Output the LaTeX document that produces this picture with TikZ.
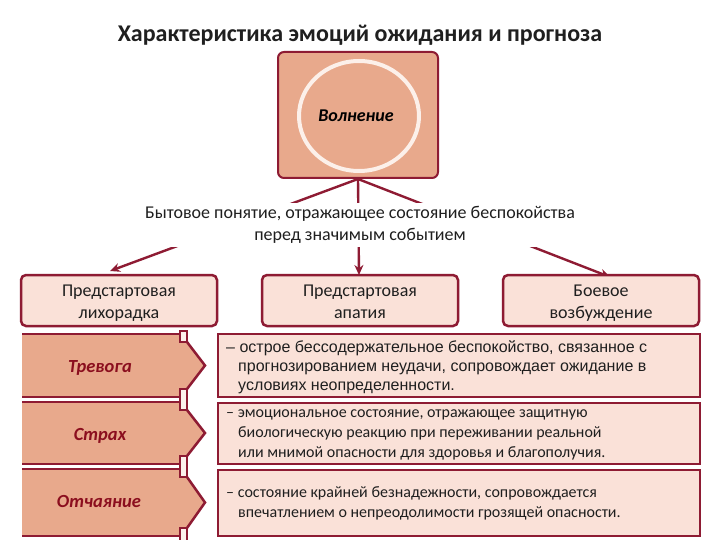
\documentclass[tikz,border=0pt]{standalone}
\usepackage{fontspec}
\setmainfont{Carlito}
\newfontfamily\arialf{Liberation Sans}
\usetikzlibrary{arrows.meta,shapes.geometric}
\definecolor{mroon}{HTML}{8E1B33}
\definecolor{salmon}{HTML}{E8A98C}
\definecolor{pinkfill}{HTML}{FAE1D8}
\definecolor{circ}{HTML}{FCF0EA}
\definecolor{lbl}{HTML}{8B0E1E}
\definecolor{txt}{HTML}{1F1F1F}
\newcommand{\tstrut}{\rule{0pt}{21.4pt}}
\tikzset{
  conn/.style={mroon, line width=2.4pt, -{Stealth[length=10pt,width=9pt]}},
  topbox/.style={draw=mroon, line width=2.5pt, fill=pinkfill, rounded corners=5pt,
    align=center, minimum width=196pt, minimum height=51pt, inner ysep=0pt, text=txt,
    font=\fontsize{18}{22}\selectfont},
  rbox/.style={draw=mroon, line width=2.5pt, fill=pinkfill, minimum width=482pt, inner sep=0pt},
  rtext/.style={anchor=west, align=left, text=txt, inner sep=0pt},
  lbltext/.style={text=lbl, font=\bfseries\itshape\fontsize{18.5}{20}\selectfont},
  chevline/.style={mroon, line width=2.5pt},
  tab/.style={draw=mroon, line width=1.5pt, fill=pinkfill!50}
}
\begin{document}
\begin{tikzpicture}[x=1pt,y=-1pt]
\useasboundingbox (0,0) rectangle (720,540);
\fill[white] (0,0) rectangle (720,540);

\node[font=\bfseries\fontsize{24}{28}\selectfont, text=txt] (title) at (360,35) {Характеристика эмоций ожидания и прогноза};

% top box
\node[draw=mroon, line width=2pt, fill=salmon, rounded corners=6pt,
      minimum width=160pt, minimum height=126pt] (wbox) at (358,115) {};
\node[draw=circ, line width=4pt, ellipse, minimum width=120pt, minimum height=110pt] (wcirc) at (359,116) {};
\node[font=\bfseries\itshape\fontsize{18}{20}\selectfont] (wtext) at (356,116) {Волнение};

% connectors
\coordinate (a1) at (110,271);
\coordinate (a2) at (359,275);
\coordinate (a3) at (610,277);
\draw[conn] (wbox.south) -- (a1);
\draw[conn] (wbox.south) -- (a2);
\draw[conn] (wbox.south) -- (a3);

\node[fill=white, align=center, text=txt, font=\fontsize{18}{22}\selectfont, inner sep=3pt] (desc) at (360,225)
  {Бытовое понятие, отражающее состояние беспокойства\\перед значимым событием};

% three boxes
\node[topbox] (b1) at (119,300.5) {\tstrut Предстартовая\\\strut лихорадка};
\node[topbox] (b2) at (360,300.5) {\tstrut Предстартовая\\\strut апатия};
\node[topbox] (b3) at (601,300.5) {\tstrut Боевое\\\strut возбуждение};

% rows: chevrons
\foreach \T/\B in {334/397, 402/464, 469/536} {
  \pgfmathsetmacro\M{(\T+\B)/2}
  \fill[salmon] (22,\T) -- (187,\T) -- (187,\T+8) -- (205,\M) -- (187,\B-8) -- (187,\B) -- (22,\B) -- cycle;
  \draw[chevline] (22,\T) -- (181,\T);
  \draw[chevline] (22,\B) -- (181,\B);
  \draw[chevline, line join=miter] (187,\T+8) -- (205,\M) -- (187,\B-8);
}
\draw[tab] (180,331) rectangle (187,342);
\draw[tab] (180,389) rectangle (187,410);
\draw[tab] (180,456) rectangle (187,477);
\draw[tab] (180,528) rectangle (187,546);

\node[lbltext] (l1) at (100,368) {Тревога};
\node[lbltext] (l2) at (100,436) {Страх};
\node[lbltext] (l3) at (99,501) {Отчаяние};

% right boxes
\node[rbox, minimum height=63pt] (r1) at (459,365.5) {};
\node[rbox, minimum height=61pt] (r2) at (459,433.5) {};
\node[rbox, minimum height=66pt] (r3) at (459,503) {};

\node[rtext, font=\arialf\fontsize{16}{19}\selectfont] (t1) at (226,367)
  {– острое бессодержательное беспокойство, связанное с\\
   \hspace*{12pt}прогнозированием неудачи, сопровождает ожидание в\\
   \hspace*{12pt}условиях неопределенности.};
\node[rtext, font=\fontsize{16}{20}\selectfont] (t2) at (226,435)
  {– эмоциональное состояние, отражающее защитную\\
   \hspace*{12pt}биологическую реакцию при переживании реальной\\
   \hspace*{12pt}или мнимой опасности для здоровья и благополучия.};
\node[rtext, font=\fontsize{16}{20}\selectfont] (t3) at (226,503)
  {– состояние крайней безнадежности, сопровождается\\
   \hspace*{12pt}впечатлением о непреодолимости грозящей опасности.};
\end{tikzpicture}
\end{document}
